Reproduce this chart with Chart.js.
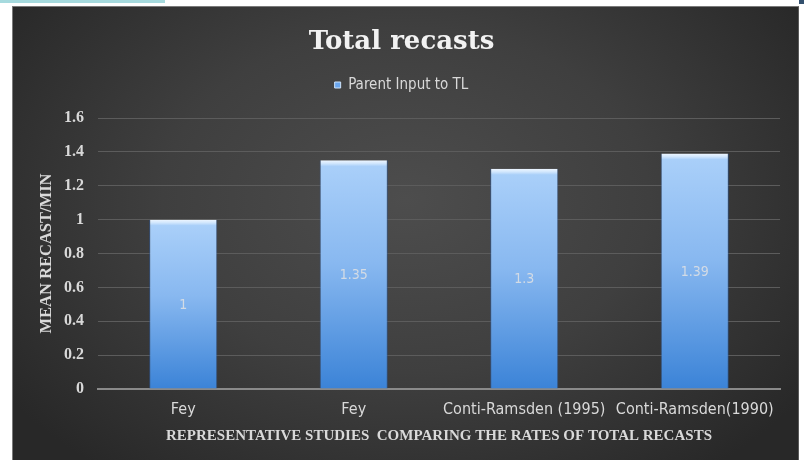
<!DOCTYPE html>
<html><head><meta charset="utf-8">
<script src="https://cdn.jsdelivr.net/npm/chart.js@4.4.0/dist/chart.umd.min.js"></script>
<style>
html,body{margin:0;padding:0;background:#fff;width:804px;height:460px;overflow:hidden;}
#strip{position:absolute;left:0;top:0;width:165px;height:3px;background:#a6dade;}
#corner{position:absolute;left:799px;top:0;width:5px;height:4px;background:#33506e;}
#panel{position:absolute;left:12px;top:6px;width:787px;height:460px;box-sizing:border-box;
 background:radial-gradient(ellipse 62% 75% at 50% 42%, #4d4d4d 0%, #3f3f3f 50%, #282828 100%);
 border-left:1px solid #7a7a7a;border-top:1px solid #7a7a7a;border-right:1px solid #5a5a5a;}
#c{position:absolute;left:0;top:0;}
</style></head>
<body>
<div id="strip"></div>
<div id="corner"></div>
<div id="panel"><canvas id="c" width="785" height="453"></canvas></div>
<script>
const chartTitle = 'Total recasts';
const seriesName = 'Parent Input to TL';
const categories = ['Fey', 'Fey', 'Conti-Ramsden (1995)', 'Conti-Ramsden(1990)'];
const values = [1, 1.35, 1.3, 1.39];
const yMin = 0, yMax = 1.6, yStep = 0.2;
const xTitle = 'REPRESENTATIVE STUDIES  COMPARING THE RATES OF TOTAL RECASTS';
const yTitle = 'MEAN RECAST/MIN';

const SERIF = '"Liberation Serif", "DejaVu Serif", serif';
const DSERIF = '"DejaVu Serif", "Liberation Serif", serif';
const NARROW = '"Liberation Sans Narrow", "DejaVu Sans Condensed", sans-serif';

function barFill(ctx) {
  const chart = ctx.chart;
  const ys = chart.scales && chart.scales.y;
  const v = ctx.raw;
  if (!chart.chartArea || !ys || typeof v !== 'number') return '#6fa8ec';
  const top = ys.getPixelForValue(v), bot = ys.getPixelForValue(0);
  const h = Math.max(1, bot - top);
  const b = Math.min(0.2, 6 / h);
  const g = chart.ctx.createLinearGradient(0, top, 0, bot);
  g.addColorStop(0, '#eef6ff');
  g.addColorStop(b * 0.5, '#d2e7fd');
  g.addColorStop(b, '#a9cff9');
  g.addColorStop(0.45, '#88b8f0');
  g.addColorStop(1, '#3b83d7');
  return g;
}

const valueLabels = {
  id: 'valueLabels',
  afterDatasetsDraw(chart) {
    const ctx = chart.ctx;
    const meta = chart.getDatasetMeta(0);
    ctx.save();
    ctx.font = '14px ' + NARROW;
    ctx.fillStyle = '#d3dbe5';
    ctx.textAlign = 'center';
    ctx.textBaseline = 'middle';
    meta.data.forEach((bar, i) => {
      ctx.fillText(String(values[i]), bar.x, (bar.y + bar.base) / 2 + 1);
    });
    ctx.restore();
  }
};

const legendGap = {
  id: 'legendGap',
  beforeInit(chart) {
    const orig = chart.legend.fit;
    chart.legend.fit = function () { orig.call(this); this.height += 15.5; };
  }
};

new Chart(document.getElementById('c'), {
  type: 'bar',
  data: {
    labels: categories,
    datasets: [{
      label: seriesName,
      data: values,
      backgroundColor: barFill,
      borderColor: 'rgba(45,95,165,0.55)',
      borderWidth: {left: 1, right: 1, top: 0, bottom: 0},
      borderSkipped: false,
      barPercentage: 0.8,
      categoryPercentage: 0.5
    }]
  },
  options: {
    responsive: false,
    animation: false,
    events: [],
    layout: {padding: {left: 10, right: 18, top: 0, bottom: 0}},
    plugins: {
      title: {
        display: true, text: chartTitle, color: '#f2f2f2',
        font: {family: DSERIF, size: 26, weight: 'bold'},
        padding: {top: 19.5, bottom: 9.8}
      },
      legend: {
        display: true, position: 'top',
        labels: {
          color: '#d9d9d9', boxWidth: 6, boxHeight: 6, padding: 10,
          font: {family: NARROW, size: 15},
          generateLabels: () => [{text: seriesName, fillStyle: '#6aa6ee', strokeStyle: '#cfe4fb', lineWidth: 1, fontColor: '#d9d9d9'}]
        }
      },
      tooltip: {enabled: false}
    },
    scales: {
      x: {
        afterFit(scale) { scale.height = 71; },
        grid: {display: false, drawTicks: false},
        border: {display: true, color: '#8a8a8a', width: 2},
        ticks: {color: '#d9d9d9', padding: 11, font: {family: NARROW, size: 16}, maxRotation: 0, autoSkip: false},
        title: {display: true, text: xTitle, color: '#d9d9d9', font: {family: SERIF, size: 15, weight: 'bold'}, padding: {top: 0, bottom: 15}}
      },
      y: {
        min: yMin, max: yMax,
        afterFit(scale) { scale.width = 75; },
        grid: {color: '#5c5c5c', lineWidth: 1, drawTicks: false},
        border: {display: false},
        ticks: {stepSize: yStep, color: '#d9d9d9', padding: 14, font: {family: SERIF, size: 16, weight: 'bold'},
          callback: (v) => String(Number(v.toFixed(1)))},
        title: {display: true, text: yTitle, color: '#d9d9d9', font: {family: SERIF, size: 16.5, weight: 'bold'}, padding: {top: 14.1, bottom: 0}}
      }
    }
  },
  plugins: [valueLabels, legendGap]
});
</script>
</body></html>
